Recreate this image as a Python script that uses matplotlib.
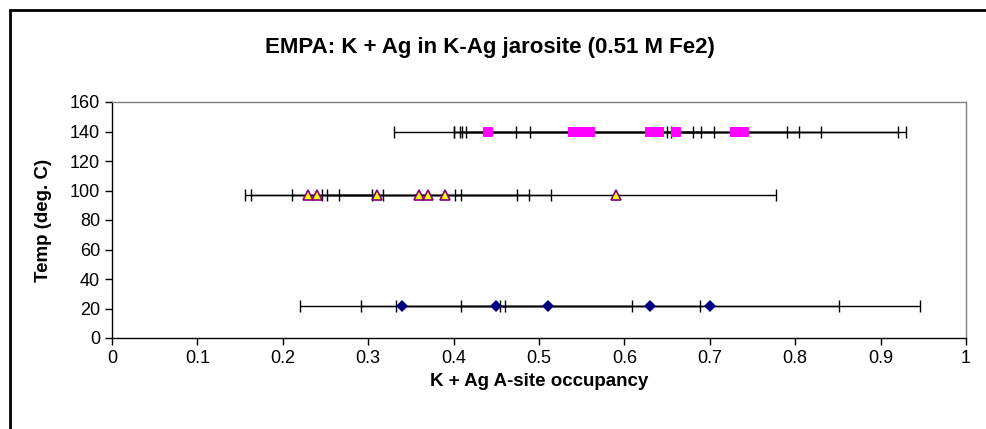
import matplotlib
matplotlib.use("Agg")
import matplotlib.pyplot as plt
from matplotlib.patches import Rectangle

plt.rcParams['font.family'] = ['Liberation Sans', 'DejaVu Sans']

# 140 C series (magenta squares)
x140 = [0.44, 0.54, 0.55, 0.56, 0.63, 0.64, 0.66, 0.73, 0.74]
e140 = [0.033, 0.14, 0.14, 0.145, 0.30, 0.15, 0.26, 0.075, 0.09]
t140 = [140] * len(x140)

# 97 C series (yellow triangles)
x97 = [0.23, 0.24, 0.31, 0.36, 0.37, 0.39, 0.59]
e97 = [0.074, 0.077, 0.099, 0.114, 0.118, 0.124, 0.188]
t97 = [97] * len(x97)

# 22 C series (navy diamonds)
x22 = [0.34, 0.45, 0.51, 0.63, 0.70]
e22 = [0.12, 0.159, 0.178, 0.221, 0.246]
t22 = [22] * len(x22)

xticks = [0, 0.1, 0.2, 0.3, 0.4, 0.5, 0.6, 0.7, 0.8, 0.9, 1]
xlabels = ['0', '0.1', '0.2', '0.3', '0.4', '0.5', '0.6', '0.7', '0.8', '0.9', '1']
yticks = [0, 20, 40, 60, 80, 100, 120, 140, 160]

fig = plt.figure(figsize=(9.86, 4.29), dpi=100)
ax = fig.add_axes([112/986, 1-338/429, (966-112)/986, (338-102)/429])

# outer chart border (cut off on right and bottom)
fig.patches.append(Rectangle((10/986, -0.05), 1.1, 1.05 - 10/429,
                             transform=fig.transFigure, fill=False,
                             edgecolor='black', linewidth=2, clip_on=False))

ax.errorbar(x140, t140, xerr=e140, fmt='none', ecolor='black',
            elinewidth=1, capsize=4, capthick=1, zorder=2)
ax.errorbar(x97, t97, xerr=e97, fmt='none', ecolor='black',
            elinewidth=1, capsize=4, capthick=1, zorder=2)
ax.errorbar(x22, t22, xerr=e22, fmt='none', ecolor='black',
            elinewidth=1, capsize=4, capthick=1, zorder=2)

ax.plot(x140, t140, 's', color='#FF00FF', markersize=7, markeredgewidth=0, zorder=3)
ax.plot(x97, t97, '^', markerfacecolor='#FFFF00', markeredgecolor='#800080',
        markersize=7.5, markeredgewidth=1.2, zorder=3)
ax.plot(x22, t22, 'D', color='#000080', markersize=6, markeredgewidth=0, zorder=3)

ax.set_xlim(0, 1)
ax.set_ylim(0, 160)
ax.set_xticks(xticks)
ax.set_xticklabels(xlabels)
ax.set_yticks(yticks)
ax.tick_params(labelsize=13, length=5, width=1, color='black')

for s in ['left', 'bottom']:
    ax.spines[s].set_color('black')
    ax.spines[s].set_linewidth(1)
for s in ['top', 'right']:
    ax.spines[s].set_color('#808080')
    ax.spines[s].set_linewidth(1)

ax.set_xlabel('K + Ag A-site occupancy', fontsize=13.5, fontweight='bold', va='center')
ax.set_ylabel('Temp (deg. C)', fontsize=13.5, fontweight='bold', va='center')
ax.xaxis.set_label_coords(0.5, (338-382)/236)
ax.yaxis.set_label_coords((44-112)/854, 0.5)
fig.text(490/986, 1-47/429, 'EMPA: K + Ag in K-Ag jarosite (0.51 M Fe2)',
         ha='center', va='center', fontsize=16, fontweight='bold')

fig.savefig('out.png', dpi=100)
